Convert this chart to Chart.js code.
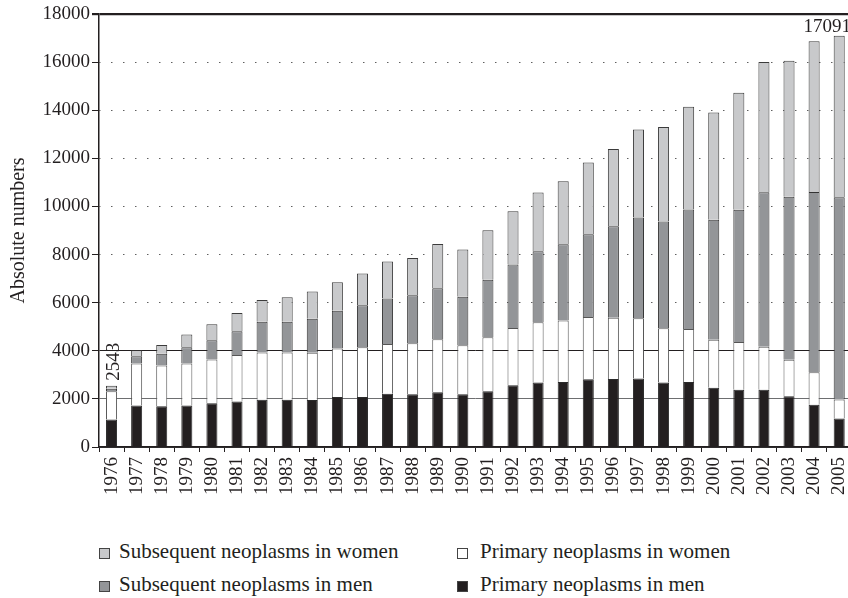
<!DOCTYPE html>
<html>
<head>
<meta charset="utf-8">
<script src="https://cdn.jsdelivr.net/npm/chart.js@4"></script>
<style>
  html, body { margin: 0; padding: 0; background: #fff; overflow: hidden; }
  #wrap { position: relative; width: 848px; height: 598px; overflow: hidden; }
  #chartBox { position: absolute; left: 0; top: 0; width: 867px; height: 507px; }
  #legend { font-family: 'Liberation Serif', serif; font-size: 21px; color: #231f20; }
  .item { position: absolute; display: flex; align-items: center; white-space: nowrap; line-height: 24px; }
  .item .txt { position: relative; top: -2px; }
  .box { width: 9px; height: 9px; border: 1px solid #444; }
</style>
</head>
<body>
<div id="wrap">
  <div id="chartBox"><canvas id="myChart"></canvas></div>
  <div id="legend"></div>
</div>
<script>
'use strict';

const years = ['1976', '1977', '1978', '1979', '1980', '1981', '1982', '1983', '1984', '1985',
  '1986', '1987', '1988', '1989', '1990', '1991', '1992', '1993', '1994', '1995',
  '1996', '1997', '1998', '1999', '2000', '2001', '2002', '2003', '2004', '2005'];

const menPrimary = [1140, 1720, 1690, 1720, 1820, 1890, 1960, 1960, 1950, 2080,
  2080, 2210, 2190, 2280, 2190, 2320, 2570, 2680, 2700, 2820,
  2830, 2850, 2680, 2700, 2460, 2380, 2380, 2110, 1760, 1180];
const womenPrimary = [1180, 1750, 1700, 1750, 1820, 1930, 1970, 1970, 1970, 2010,
  2070, 2070, 2125, 2195, 2040, 2240, 2375, 2510, 2560, 2580,
  2540, 2500, 2260, 2210, 2000, 1980, 1790, 1520, 1345, 790];
const menSubsequent = [100, 300, 490, 680, 800, 990, 1280, 1280, 1415, 1570,
  1740, 1890, 1990, 2125, 2015, 2390, 2640, 2945, 3165, 3445,
  3805, 4195, 4435, 4960, 4985, 5500, 6415, 6775, 7500, 8415];
const womenSubsequent = [123, 250, 360, 530, 665, 765, 900, 1010, 1125, 1190,
  1320, 1540, 1555, 1835, 1960, 2060, 2220, 2445, 2625, 2985,
  3210, 3650, 3930, 4275, 4460, 4865, 5420, 5655, 6265, 6706];

// totals printed above two of the bars
const totalLabels = [{ index: 0, text: '2543' }, { index: 29, text: '17091' }];

const yTicks = { min: 0, max: 18000, step: 2000 };

const ink = '#231f20';
const serif = 'Liberation Serif';
Chart.defaults.font.family = serif;
Chart.defaults.color = ink;

const chartCanvas = document.getElementById('myChart');

function lineStyleFor(value) {
  if (value === undefined || value === null) return [];
  if (value > 4000 && value < 18000) return [1.2, 10.8];
  return [];
}

const totalsPlugin = {
  id: 'totals',
  afterDatasetsDraw(chart) {
    const ctx = chart.ctx;
    const top = chart.getDatasetMeta(chart.data.datasets.length - 1);
    ctx.save();
    ctx.fillStyle = ink;
    ctx.font = '19px "' + serif + '"';
    for (const lbl of totalLabels) {
      const bar = top.data[lbl.index];
      if (lbl.index === 0) {
        ctx.save();
        ctx.translate(bar.x + 2, bar.y - 5);
        ctx.rotate(-Math.PI / 2);
        ctx.textAlign = 'left';
        ctx.textBaseline = 'middle';
        ctx.fillText(lbl.text, 0, 0);
        ctx.restore();
      } else {
        ctx.textAlign = 'center';
        ctx.textBaseline = 'alphabetic';
        ctx.fillText(lbl.text, bar.x - 12, bar.y - 4);
      }
    }
    ctx.restore();
  },
};

function makeDataset(label, data, color, border) {
  return {
    label: label,
    data: data,
    backgroundColor: color,
    borderColor: border,
    borderWidth: 1,
    borderSkipped: 'bottom',
    barPercentage: 0.44,
    categoryPercentage: 1,
  };
}

function createNeoplasmChart() {
  return new Chart(chartCanvas, {
    type: 'bar',
    data: {
      labels: years,
      datasets: [
        makeDataset('Primary neoplasms in men', menPrimary, ink, '#2a2a2a'),
        makeDataset('Primary neoplasms in women', womenPrimary, '#ffffff', '#555555'),
        makeDataset('Subsequent neoplasms in men', menSubsequent, '#939598', '#333333'),
        makeDataset('Subsequent neoplasms in women', womenSubsequent, '#c8c9cb', '#3b3b3b'),
      ],
    },
    plugins: [totalsPlugin],
    options: {
      responsive: true,
      maintainAspectRatio: false,
      animation: false,
      layout: { padding: { top: 14, right: 0, left: 0, bottom: 0 } },
      plugins: {
        legend: { display: false },
        tooltip: { enabled: false },
      },
      scales: {
        x: {
          stacked: true,
          grid: {
            drawOnChartArea: false,
            offset: true,
            tickLength: 5,
            tickColor: ink,
          },
          border: { color: ink, width: 1.5 },
          ticks: {
            autoSkip: false,
            maxRotation: 90,
            minRotation: 90,
            padding: 5,
            font: { size: 19 },
          },
          afterFit(scale) { scale.height = 60; },
        },
        y: {
          stacked: true,
          min: yTicks.min,
          max: yTicks.max,
          ticks: {
            stepSize: yTicks.step,
            padding: 2,
            font: { size: 19 },
            callback: (v) => String(v),
          },
          grid: {
            color: (c) => {
              const v = c.tick ? c.tick.value : null;
              if (v === 2000) return '#6d6e70';
              if (v === 4000 || v === 18000) return ink;
              return '#3a3a3a';
            },
            lineWidth: (c) => (c.tick && c.tick.value === 18000 ? 2.2 : 1),
            tickLength: 7,
            tickColor: ink,
          },
          border: {
            color: ink,
            width: 1.5,
            dash: (c) => lineStyleFor(c.tick ? c.tick.value : null),
            dashOffset: 0.3,
          },
          title: {
            display: true,
            text: 'Absolute numbers',
            font: { size: 20 },
            padding: { top: 7, bottom: 0 },
          },
          afterFit(scale) { scale.width = 99; },
        },
      },
    },
  });
}

const chart = createNeoplasmChart();

// two-column legend underneath the plot
const legendSpots = [
  { dataset: 3, left: 99, top: 541, gap: 9 },
  { dataset: 1, left: 457, top: 541, gap: 12 },
  { dataset: 2, left: 99, top: 574, gap: 9 },
  { dataset: 0, left: 457, top: 574, gap: 12 },
];
const legendEl = document.getElementById('legend');
for (const spot of legendSpots) {
  const ds = chart.data.datasets[spot.dataset];
  const item = document.createElement('div');
  item.className = 'item';
  item.style.left = spot.left + 'px';
  item.style.top = spot.top + 'px';
  const box = document.createElement('span');
  box.className = 'box';
  box.style.background = ds.backgroundColor;
  box.style.marginRight = spot.gap + 'px';
  const text = document.createElement('span');
  text.className = 'txt';
  text.textContent = ds.label;
  item.appendChild(box);
  item.appendChild(text);
  legendEl.appendChild(item);
}
</script>
</body>
</html>
